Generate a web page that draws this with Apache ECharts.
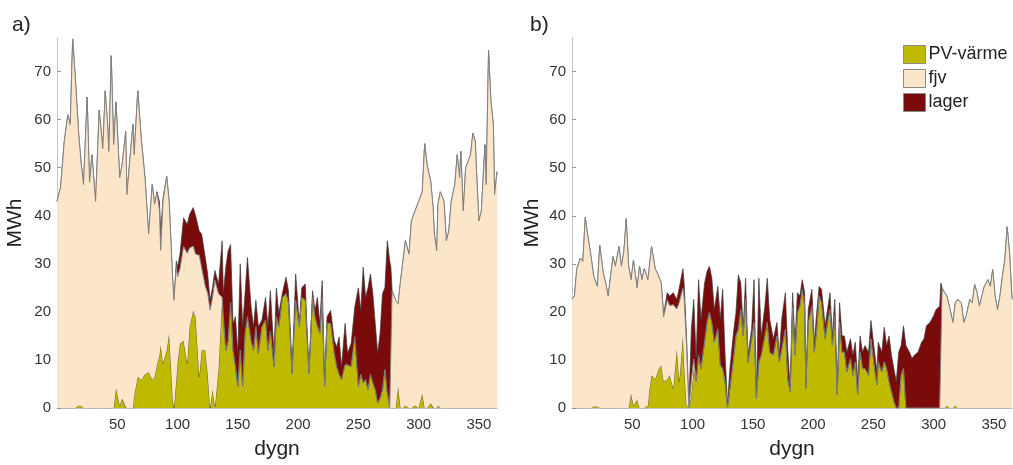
<!DOCTYPE html>
<html><head><meta charset="utf-8">
<script src="https://cdn.jsdelivr.net/npm/echarts@6/dist/echarts.min.js"></script>
<style>html,body{margin:0;padding:0;background:#fff}#c{width:1013px;height:465px}</style>
</head><body><div id="c"></div>
<script>
const seriesNames = ['PV-värme', 'fjv', 'lager'];
const panelLabels = ['a)', 'b)'];
const xName = 'dygn';
const yName = 'MWh';
const yTicks = [0, 10, 20, 30, 40, 50, 60, 70];
const xTicks = [50, 100, 150, 200, 250, 300, 350];

// ---------- panel a ----------
const daysA = [0,3,6,9,11,13,15,18,20,22,
25,27,29,32,35,38,40,42,43,45,
47,49,52,54,57,58,61,63,64,67,
70,73,76,79,81,83,85,86,88,91,
93,96,97,99,100,102,105,108,110,113,
115,118,120,123,125,127,129,131,134,137,
138,140,142,144,146,148,150,152,154,156,
158,161,163,165,167,170,173,175,177,180,
182,184,187,190,192,195,197,198,201,203,
206,207,209,212,214,216,218,220,222,224,
227,230,232,234,236,239,241,244,247,250,
252,254,256,258,260,262,264,266,268,270,
272,274,276,277,278,281,283,285,287,289,
292,294,297,300,303,305,307,310,312,313,
315,316,318,321,323,325,327,330,332,334,
335,337,339,341,343,345,347,348,350,352,
355,356,358,360,362,363,365];
const pvA = [0,0,0,0,0,0,0,0.5,0.4,0,
0,0,0,0,0,0,0,0,0,0,
0,4.1,0.5,2,0,0,0,0,2.5,6.5,
5.9,7,7.5,5.9,6.5,9,11,13,9.3,12,
15.5,2,0,6,9.3,13.4,14,9.3,16.9,20.3,
19,6.5,12,12,7.2,0,3.8,0.3,8,23,
19,12,14,22,12,8.6,4.5,12,4.5,15.5,
19,14,12,16.9,11.4,16.9,18.3,12,16,8.6,
19,16.9,23,23.8,22,7.2,17.6,22.4,16.9,23,
22.4,17,7.2,23,19,17,15.5,23,4.5,17.6,
17.6,11.4,8.6,7,5.9,9,9,8.6,14.8,4.5,
7,5.2,5.9,3.8,7,5.2,3.8,1,2,3.8,
8,3,0,0,0,0,4.5,0,0,0.5,
0,0,0.5,0,3,0,0,1,0,0,
0,0.5,0,0,0,0,0,0,0,0,
0,0,0,0,0,0,0,0,0,0,
0,0,0,0,0,0,0];
const fjvA = [43,46,55.4,61,59,76.8,69.5,56.5,50.6,46.5,
64.7,47,52.7,43,62,54,66,59,53.4,73.3,
54.8,59.6,47.4,48.6,57.5,44.4,53.4,59,50.2,59.5,
49.9,40.9,28.7,40.6,35.9,36,30,19.8,33.9,36.2,
27.5,24.5,22.4,23.6,18,15.6,19.6,22.9,16.4,13.4,
13,25.3,17.2,13.3,16.7,20.4,19.2,26.3,15.8,0,
0,0,0,0,0,0,0,0,0,0,
0,0,0,0,0,0,0,0,0,0,
0,0,0,0,0,0,0,0,0,0,
0,0,0,0,0,0,0,0,0,0,
0,0,0,0,0,0,0,0,0,0,
0,0,0,0,0,0,0,0,0,0,
0,0,0,0,24.4,22.4,17.2,26.5,30.6,34.3,
32,38.9,40.5,43,42,55,50.6,46.2,41.7,36.2,
32.7,41.9,45,43,34.8,36.8,43,46.5,52.7,47.9,
53.4,41,50,51.3,52.7,57.2,55.4,49.2,38.9,41,
54.8,46.5,74.4,63.7,58.9,44.4,49.2];
const lagerA = [0,0,0,0,0,0,0,0,0,0,
0,0,0,0,0,0,0,0,0,0,
0,0,0,0,0,0,0,0,0,0,
0,0,0,0,0,0,2,4,0.5,0,
0,0,0,1,2,3,6,6,7,8,
8,5,7,6,4,2,2,2,2,11.8,
4.8,17.3,18.7,12,5.5,10.4,6.9,18,12.4,8.3,
12.3,7,4.9,5.5,5.5,1.4,4.7,4.9,8.4,2.8,
6,2.7,1,3.4,2.4,1.4,3.4,5.5,0.7,2,
3.4,2,0.7,1.4,1.3,6,2.1,3.5,0.7,1.4,
2.7,2.7,4.1,7.8,2.7,8.6,2.4,4.8,6.2,20.5,
13.3,24.1,17.1,21.2,20.9,18.6,13.8,10.4,13.5,20,
17,31.8,30.6,29.3,0,0,0,0,0,0,
0,0,0,0,0,0,0,0,0,0,
0,0,0,0,0,0,0,0,0,0,
0,0,0,0,0,0,0,0,0,0,
0,0,0,0,0,0,0];

// ---------- panel b ----------
const daysB = [0,2,4,7,9,11,13,16,18,21,
23,26,28,30,34,36,39,41,43,45,
47,49,51,54,56,58,60,63,64,66,
69,72,74,76,79,81,84,87,89,92,
93,95,97,99,101,103,105,107,110,112,
114,116,118,121,123,125,127,129,131,134,
136,138,140,142,144,146,149,151,153,155,
157,160,162,164,167,170,172,174,177,179,
181,183,185,187,189,191,193,194,196,199,
201,203,205,207,210,212,214,216,218,220,
222,224,226,228,231,233,235,237,239,241,
243,246,248,251,253,254,257,259,261,263,
265,267,269,271,273,275,277,280,282,284,
287,290,292,294,297,300,302,305,306,307,
309,311,313,316,318,320,323,325,327,330,
332,334,336,338,340,342,345,347,349,351,
353,355,357,359,361,363,365];
const pvB = [0,0,0,0,0,0,0,0,0.3,0.3,
0,0,0,0,0,0,0,0,0,0,
0,3,0.5,1.7,0,0,0,0.5,3.4,6.8,
6,8.2,8.9,5.5,6,6.8,4.1,12.3,5.5,15,
8.9,0.7,0,2.7,8.2,5.5,11,8.2,13.7,17.8,
19.9,17.8,13.7,16.4,8.9,8.2,5.5,0,4.1,10.3,
15,16.4,20.5,15,22.6,9.5,14.4,17.8,2,9.6,
11,15,17.8,11.6,11,15,9.6,12.3,16.4,6,
3.4,21,11,19.9,21.2,24.7,21.2,4.1,17.8,21.2,
11.6,16.4,23.3,21.9,14.4,17.8,20.5,13,19.2,2.7,
17.8,11.6,11.6,7.5,10.3,6.8,9.6,2.7,11.6,8.2,
8.2,6.8,14.4,8.2,4.8,9.6,7.5,9.6,8.2,5.5,
3.4,1.4,0,0,6.8,8.2,0,0,0,0,
0,0,0,0,0,0,0,0,0,0,
0,0.5,0,0,0.5,0,0,0,0,0,
0,0,0,0,0,0,0,0,0,0,
0,0,0,0,0,0,0];
const fjvB = [22.6,23.3,29,31.2,30.5,39.7,36,31.2,27.1,25,
33.9,28,26,23.3,31.5,29.5,33.6,29.5,32.5,39.4,
29.5,23.7,30.3,23.3,29.5,26.7,29,26.2,25.6,26.8,
23,19.2,17.1,13.5,16.5,14.5,17.4,8.3,16.5,10,
14.1,12.3,0,3,2,0,0,0,0,0,
0,0,0,0,0,0,0,0,0,0,
0,0,0,0,0,0,0,0,0,0,
0,0,0,0,0,0,0,0,0,0,
0,0,0,0,0,0,0,0,0,0,
0,0,0,0,0,0,0,0,0,0,
0,0,0,0,0,0,0,0,0,0,
0,0,0,0,0,0,0,0,0,0,
0,0,0,0,0,0,0,0,0,0,
0,0,0,0,0,0,0,0,0,25,
24,22.8,21.2,17.8,21.4,22.6,21.9,17.8,19.2,22.6,
21.9,25.7,24,21.2,23.3,25.3,26.7,25.3,28.8,23.3,
20.5,23.3,27.4,30.8,37.7,32.2,22.6];
const lagerB = [0,0,0,0,0,0,0,0,0,0,
0,0,0,0,0,0,0,0,0,0,
0,0,0,0,0,0,0,0,0,0,
0,0,0,0.5,1.5,2,2.5,2,3,4,
3,2,0.7,10.7,12.4,4.8,15.7,10.3,12.3,10.6,
9.6,9.2,6.8,8.9,9.6,16.5,5.5,0.7,4.1,5.5,
4.9,11.3,5.5,1.4,4.4,1.5,2,8.9,0.7,17.4,
4,6.2,9.2,6.9,3.4,2.8,1.4,6.2,7.6,6,
0.7,3,2.7,4.1,2.1,2,2.8,1.4,2.7,3.5,
2.1,3.5,2,2.8,2.7,2.7,3.5,2,3.4,1.4,
4.1,3.4,3.4,4.1,4.1,4.2,4.1,2.8,3.4,3.4,
4.8,4.8,3.8,3.4,2.7,4.1,4.1,7.2,4.8,9.5,
7.6,6.8,5.5,11.6,6.2,8.9,13,11.6,10.3,11,
11.6,13.7,14.4,17.1,17.8,19.2,20.5,21.2,26,0,
0,0,0,0,0,0,0,0,0,0,
0,0,0,0,0,0,0,0,0,0,
0,0,0,0,0,0,0];

const fillColors = ['#bfba00', '#fce6c9', '#7b0b0b'];
const lineColors = ['#3c3c3c', '#808080', '#3a3a3a'];
const lineWidths = [0.7, 1, 0.7];
const seriesZ = [2, 4, 3];
const FONT = '"Liberation Sans", Arial, Helvetica, sans-serif';

// value first, day second -> stacking happens on the value (y) dimension
function zip(d, v) { return d.map((x, i) => [v[i], x]); }

const panels = [
  { days: daysA, vals: [pvA, fjvA, lagerA] },
  { days: daysB, vals: [pvB, fjvB, lagerB] }
];

const grids = [
  { left: 57, top: 38, width: 440, height: 372 },
  { left: 572, top: 38, width: 440, height: 375 }
];

const xAxes = [0, 1].map(i => ({
  type: 'value', gridIndex: i, min: 0, max: 365,
  axisLine: { show: true, lineStyle: { color: '#c4c4c4', width: 1 } },
  axisTick: { show: false },
  splitLine: { show: false },
  axisLabel: { customValues: xTicks, color: '#333', fontSize: 15, fontFamily: FONT, margin: 9 },
  name: xName, nameLocation: 'middle', nameGap: 31,
  nameTextStyle: { fontSize: 21, color: '#222', fontFamily: FONT }
}));

const yAxes = [0, 1].map(i => ({
  type: 'value', gridIndex: i, min: 0, max: 77,
  axisLine: { show: true, lineStyle: { color: '#c4c4c4', width: 1 } },
  axisTick: { show: true, inside: true, length: 4, customValues: yTicks, lineStyle: { color: '#999' } },
  splitLine: { show: false },
  axisLabel: { customValues: yTicks, color: '#333', fontSize: 15, fontFamily: FONT, margin: 6 },
  name: yName, nameLocation: 'middle', nameGap: i === 0 ? 31 : 29,
  nameTextStyle: { fontSize: 21, color: '#222', fontFamily: FONT }
}));

const series = [];
panels.forEach((p, pi) => {
  seriesNames.forEach((nm, si) => {
    series.push({
      name: nm, type: 'line', stack: 'p' + pi,
      xAxisIndex: pi, yAxisIndex: pi,
      data: zip(p.days, p.vals[si]),
      encode: { x: 1, y: 0 },
      symbol: 'none', showSymbol: false,
      color: fillColors[si],
      itemStyle: { color: fillColors[si] },
      lineStyle: { color: lineColors[si], width: lineWidths[si] },
      areaStyle: { color: fillColors[si], opacity: 1 },
      emphasis: { disabled: true },
      z: seriesZ[si]
    });
  });
});

const chart = echarts.init(document.getElementById('c'), null, { renderer: 'canvas' });
chart.setOption({
  animation: false,
  backgroundColor: '#fff',
  title: [
    { text: panelLabels[0], left: 12, top: 15, padding: 0, textStyle: { fontSize: 21, fontWeight: 'normal', color: '#222', fontFamily: FONT } },
    { text: panelLabels[1], left: 530, top: 15, padding: 0, textStyle: { fontSize: 21, fontWeight: 'normal', color: '#222', fontFamily: FONT } }
  ],
  legend: {
    data: seriesNames, orient: 'vertical', left: 903, top: 45, padding: 0,
    itemWidth: 22, itemHeight: 18, itemGap: 5, icon: 'rect',
    itemStyle: { borderColor: '#8a8a8a', borderWidth: 1 },
    textStyle: { fontSize: 18, color: '#222', fontFamily: FONT, padding: [0, 0, 0, -2] },
    selectedMode: false
  },
  grid: grids,
  xAxis: xAxes,
  yAxis: yAxes,
  series: series
});
</script>
</body></html>
